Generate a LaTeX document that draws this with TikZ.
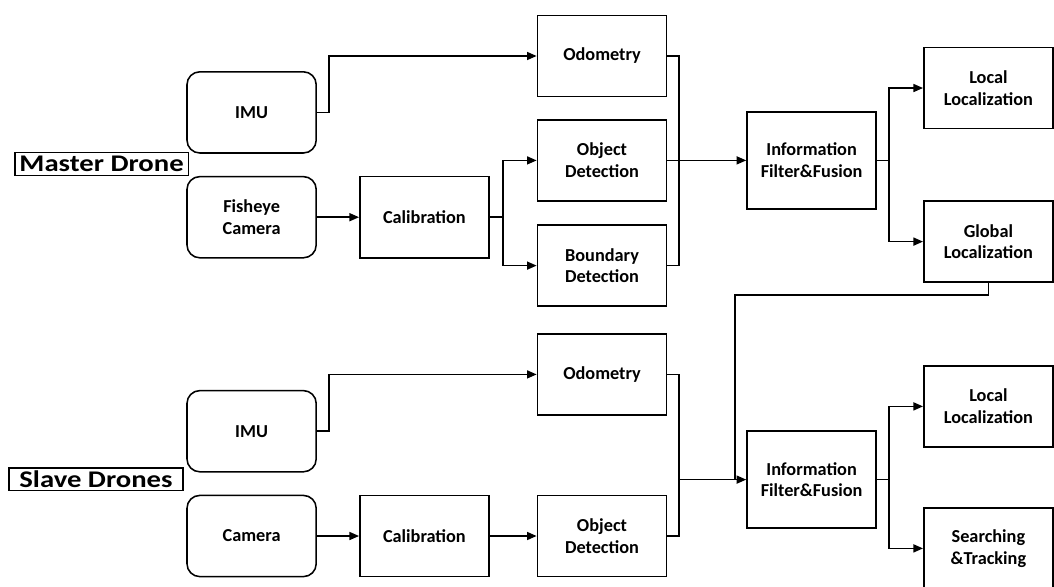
\documentclass[tikz,border=0pt]{standalone}
\usepackage{fontspec}
\setmainfont{Carlito}
\newfontfamily\labelfont[FakeStretch=1.2]{Carlito}
\usepackage{tikz}
\usetikzlibrary{arrows.meta}

\tikzset{
  blockbox/.style={draw, line width=1.1pt, minimum width=3.23cm, minimum height=2.03cm,
    align=center, font=\fontsize{13}{15.5}\selectfont\bfseries, inner sep=0pt},
  sensorbox/.style={blockbox, rounded corners=0.32cm},
  fusebox/.style={blockbox, minimum height=2.43cm},
  dronelabel/.style={draw, line width=0.8pt, inner sep=0pt, minimum height=0.56cm,
    font=\labelfont\fontsize{17}{17}\selectfont\bfseries},
  arr/.style={line width=1.1pt, -{Triangle[length=2.4mm,width=2mm]}},
  wire/.style={line width=1.1pt}
}

\begin{document}
\begin{tikzpicture}
\clip (0,0) rectangle (26.35,-14.65);
% Master drone
\node[dronelabel, minimum width=4.33cm] (master) at (2.54,-4.1) {Master Drone};
\node[sensorbox] (imuM) at (6.29,-2.81) {IMU};
\node[sensorbox] (fishM) at (6.29,-5.43) {Fisheye\\Camera};
\node[blockbox] (calM) at (10.61,-5.43) {Calibration};
\node[blockbox] (odoM) at (15.05,-1.4) {Odometry};
\node[blockbox] (objM) at (15.05,-4.01) {Object\\Detection};
\node[blockbox] (bndM) at (15.05,-6.64) {Boundary\\Detection};
\node[fusebox] (fusM) at (20.29,-4.01) {Information\\Filter\&Fusion};
\node[blockbox] (locM) at (24.71,-2.2) {Local\\Localization};
\node[blockbox] (gloM) at (24.71,-6.04) {Global\\Localization};
\coordinate (mrgM) at (16.98,-4.01);

% Slave drones
\node[dronelabel, minimum width=4.35cm] (slave) at (2.4,-11.98) {Slave Drones};
\node[sensorbox] (imuS) at (6.29,-10.78) {IMU};
\node[sensorbox] (camS) at (6.29,-13.4) {Camera};
\node[blockbox] (calS) at (10.61,-13.4) {Calibration};
\node[blockbox] (odoS) at (15.05,-9.36) {Odometry};
\node[blockbox] (objS) at (15.05,-13.4) {Object\\Detection};
\node[fusebox] (fusS) at (20.29,-11.99) {Information\\Filter\&Fusion};
\node[blockbox] (locS) at (24.71,-10.16) {Local\\Localization};
\node[blockbox] (srcS) at (24.71,-13.71) {Searching\\\&Tracking};
\coordinate (mrgS) at (16.98,-11.99);
\coordinate (jS) at (18.38,-11.99);

% connectors, master
\draw[arr] (imuM.east) -- ++(0.3,0) |- (odoM.west);
\draw[arr] (fishM) -- (calM);
\draw[arr] (calM.east) -- ++(0.33,0) |- (objM.west);
\draw[arr] (calM.east) -- ++(0.33,0) |- (bndM.west);
\draw[wire] (odoM.east) -| (mrgM) |- (bndM.east);
\draw[arr] (objM.east) -- (fusM.west);
\draw[arr] (fusM.east) -- ++(0.3,0) |- (locM.west);
\draw[arr] (fusM.east) -- ++(0.3,0) |- (gloM.west);
% global localization feeds the slaves
\draw[wire] (gloM.south) -- ++(0,-0.3) -| (jS);

% connectors, slaves
\draw[arr] (imuS.east) -- ++(0.3,0) |- (odoS.west);
\draw[arr] (camS) -- (calS);
\draw[arr] (calS) -- (objS);
\draw[wire] (odoS.east) -| (mrgS) |- (objS.east);
\draw[arr] (mrgS) -- (fusS.west);
\draw[arr] (fusS.east) -- ++(0.3,0) |- (locS.west);
\draw[arr] (fusS.east) -- ++(0.3,0) |- (srcS.west);
\end{tikzpicture}
\end{document}
